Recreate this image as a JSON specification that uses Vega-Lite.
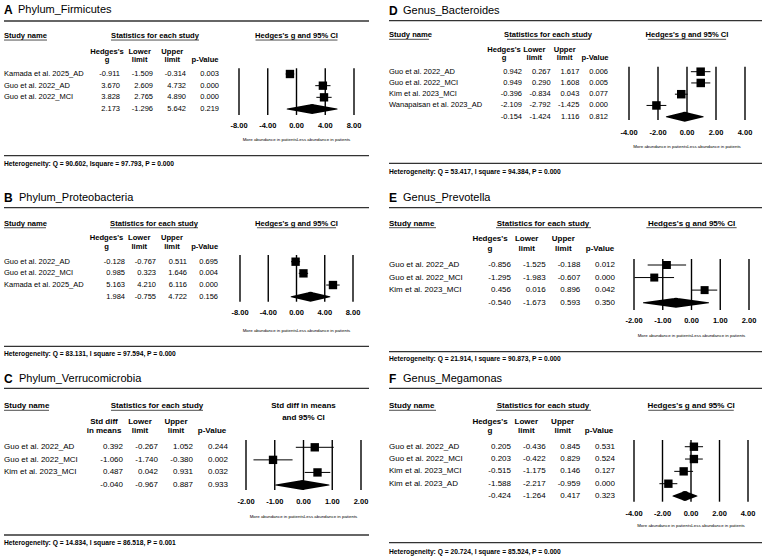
{
  "$schema": "https://vega.github.io/schema/vega-lite/v6.json",
  "padding": {"left": 3, "top": 0, "right": 0, "bottom": 0},
  "bounds": "flush",
  "columns": 2,
  "spacing": {"row": 0, "column": 20},
  "datasets": {
    "studies": [
      {"panel": "A", "order": 1, "kind": "study", "study": "Kamada et al. 2025_AD", "g": -0.911, "lo": -1.509, "hi": -0.314, "p": 0.003},
      {"panel": "A", "order": 2, "kind": "study", "study": "Guo et al. 2022_AD", "g": 3.670, "lo": 2.609, "hi": 4.732, "p": 0.000},
      {"panel": "A", "order": 3, "kind": "study", "study": "Guo et al. 2022_MCI", "g": 3.828, "lo": 2.765, "hi": 4.890, "p": 0.000},
      {"panel": "A", "order": 4, "kind": "summary", "study": "", "g": 2.173, "lo": -1.296, "hi": 5.642, "p": 0.219},
      {"panel": "B", "order": 1, "kind": "study", "study": "Guo et al. 2022_AD", "g": -0.128, "lo": -0.767, "hi": 0.511, "p": 0.695},
      {"panel": "B", "order": 2, "kind": "study", "study": "Guo et al. 2022_MCI", "g": 0.985, "lo": 0.323, "hi": 1.646, "p": 0.004},
      {"panel": "B", "order": 3, "kind": "study", "study": "Kamada et al. 2025_AD", "g": 5.163, "lo": 4.210, "hi": 6.116, "p": 0.000},
      {"panel": "B", "order": 4, "kind": "summary", "study": "", "g": 1.984, "lo": -0.755, "hi": 4.722, "p": 0.156},
      {"panel": "C", "order": 1, "kind": "study", "study": "Guo et al. 2022_AD", "g": 0.392, "lo": -0.267, "hi": 1.052, "p": 0.244},
      {"panel": "C", "order": 2, "kind": "study", "study": "Guo et al. 2022_MCI", "g": -1.060, "lo": -1.740, "hi": -0.380, "p": 0.002},
      {"panel": "C", "order": 3, "kind": "study", "study": "Kim et al. 2023_MCI", "g": 0.487, "lo": 0.042, "hi": 0.931, "p": 0.032},
      {"panel": "C", "order": 4, "kind": "summary", "study": "", "g": -0.040, "lo": -0.967, "hi": 0.887, "p": 0.933},
      {"panel": "D", "order": 1, "kind": "study", "study": "Guo et al. 2022_AD", "g": 0.942, "lo": 0.267, "hi": 1.617, "p": 0.006},
      {"panel": "D", "order": 2, "kind": "study", "study": "Guo et al. 2022_MCI", "g": 0.949, "lo": 0.290, "hi": 1.608, "p": 0.005},
      {"panel": "D", "order": 3, "kind": "study", "study": "Kim et al. 2023_MCI", "g": -0.396, "lo": -0.834, "hi": 0.043, "p": 0.077},
      {"panel": "D", "order": 4, "kind": "study", "study": "Wanapaisan et al. 2023_AD", "g": -2.109, "lo": -2.792, "hi": -1.425, "p": 0.000},
      {"panel": "D", "order": 5, "kind": "summary", "study": "", "g": -0.154, "lo": -1.424, "hi": 1.116, "p": 0.812},
      {"panel": "E", "order": 1, "kind": "study", "study": "Guo et al. 2022_AD", "g": -0.856, "lo": -1.525, "hi": -0.188, "p": 0.012},
      {"panel": "E", "order": 2, "kind": "study", "study": "Guo et al. 2022_MCI", "g": -1.295, "lo": -1.983, "hi": -0.607, "p": 0.000},
      {"panel": "E", "order": 3, "kind": "study", "study": "Kim et al. 2023_MCI", "g": 0.456, "lo": 0.016, "hi": 0.896, "p": 0.042},
      {"panel": "E", "order": 4, "kind": "summary", "study": "", "g": -0.540, "lo": -1.673, "hi": 0.593, "p": 0.350},
      {"panel": "F", "order": 1, "kind": "study", "study": "Guo et al. 2022_AD", "g": 0.205, "lo": -0.436, "hi": 0.845, "p": 0.531},
      {"panel": "F", "order": 2, "kind": "study", "study": "Guo et al. 2022_MCI", "g": 0.203, "lo": -0.422, "hi": 0.829, "p": 0.524},
      {"panel": "F", "order": 3, "kind": "study", "study": "Kim et al. 2023_MCI", "g": -0.515, "lo": -1.175, "hi": 0.146, "p": 0.127},
      {"panel": "F", "order": 4, "kind": "study", "study": "Kim et al. 2023_AD", "g": -1.588, "lo": -2.217, "hi": -0.959, "p": 0.000},
      {"panel": "F", "order": 5, "kind": "summary", "study": "", "g": -0.424, "lo": -1.264, "hi": 0.417, "p": 0.323}
    ],
    "heads": [{"col": "g", "h": "Hedges's\ng"}, {"col": "lo", "h": "Lower\nlimit"}, {"col": "hi", "h": "Upper\nlimit"}, {"col": "p", "h": "\np-Value"}],
    "headsC": [{"col": "g", "h": "Std diff\nin means"}, {"col": "lo", "h": "Lower\nlimit"}, {"col": "hi", "h": "Upper\nlimit"}, {"col": "p", "h": "\np-Value"}],
    "ticks8": [{"t": -8, "label": "-8.00"}, {"t": -4, "label": "-4.00"}, {"t": 0, "label": "0.00"}, {"t": 4, "label": "4.00"}, {"t": 8, "label": "8.00"}],
    "ticks4": [{"t": -4, "label": "-4.00"}, {"t": -2, "label": "-2.00"}, {"t": 0, "label": "0.00"}, {"t": 2, "label": "2.00"}, {"t": 4, "label": "4.00"}],
    "ticks2": [{"t": -2, "label": "-2.00"}, {"t": -1, "label": "-1.00"}, {"t": 0, "label": "0.00"}, {"t": 1, "label": "1.00"}, {"t": 2, "label": "2.00"}]
  },
  "concat": [
    {
      "width": 365, "height": 185,
      "data": {"values": [{}]},
      "resolve": {"scale": {"x": "independent"}},
      "layer": [
        {"layer": [
          {"mark": {"type": "text", "text": "A", "fontSize": 12, "fontWeight": "bold", "align": "left", "baseline": "middle"},
           "encoding": {"x": {"datum": 0, "scale": {"domain": [0, 365], "nice": false, "zero": false}}, "y": {"datum": -4.51, "scale": {"domain": [-5.341, 10.512], "reverse": true, "nice": false, "zero": false}}}},
          {"mark": {"type": "text", "text": "Phylum_Firmicutes", "fontSize": 11, "align": "left", "baseline": "middle"},
           "encoding": {"x": {"datum": 14}, "y": {"datum": -4.51}}},
          {"mark": {"type": "rule", "color": "#333", "strokeWidth": 1.3}, "encoding": {"y": {"datum": -3.54}}},
          {"mark": {"type": "text", "text": "Study name", "fontSize": 7.6, "fontWeight": "bold", "align": "left", "baseline": "middle"},
           "encoding": {"x": {"datum": 0}, "y": {"datum": -2.26}}},
          {"mark": {"type": "rule", "color": "#222", "strokeWidth": 0.8}, "encoding": {"x": {"datum": 0}, "x2": {"datum": 43}, "y": {"datum": -1.91}}},
          {"mark": {"type": "text", "text": "Statistics for each study", "fontSize": 7.6, "fontWeight": "bold", "align": "center", "baseline": "middle"},
           "encoding": {"x": {"datum": 151}, "y": {"datum": -2.26}}},
          {"mark": {"type": "rule", "color": "#222", "strokeWidth": 0.8}, "encoding": {"x": {"datum": 107}, "x2": {"datum": 195}, "y": {"datum": -1.91}}},
          {"data": {"name": "studies"}, "transform": [{"filter": "datum.panel === 'A' && datum.kind === 'study'"}],
           "mark": {"type": "text", "fontSize": 7.5, "align": "left", "baseline": "middle"},
           "encoding": {"x": {"datum": 0}, "y": {"field": "order", "type": "quantitative"}, "text": {"field": "study"}}},
          {"mark": {"type": "rule", "color": "#333", "strokeWidth": 1.3}, "encoding": {"y": {"datum": 8.0}}},
          {"mark": {"type": "text", "text": "Heterogeneity: Q = 90.602, Isquare = 97.793, P = 0.000", "fontSize": 6.7, "fontWeight": "bold", "align": "left", "baseline": "middle"},
           "encoding": {"x": {"datum": 0}, "y": {"datum": 8.74}}}
        ]},
        {"data": {"name": "heads"},
         "mark": {"type": "text", "fontSize": 7.6, "fontWeight": "bold", "align": "center", "baseline": "middle", "lineBreak": "\n", "lineHeight": 8.3},
         "encoding": {"x": {"field": "col", "type": "nominal", "scale": {"type": "point", "domain": ["g", "lo", "hi", "p"], "range": [103, 201], "padding": 0}}, "y": {"datum": -0.911}, "text": {"field": "h"}}},
        {"data": {"name": "studies"}, "transform": [{"filter": "datum.panel === 'A'"}, {"fold": ["g", "lo", "hi", "p"], "as": ["col", "val"]}],
         "mark": {"type": "text", "fontSize": 7.5, "align": "right", "baseline": "middle"},
         "encoding": {"x": {"field": "col", "type": "nominal", "scale": {"type": "point", "domain": ["g", "lo", "hi", "p"], "range": [116, 215], "padding": 0}}, "y": {"field": "order", "type": "quantitative"}, "text": {"field": "val", "type": "quantitative", "format": ".3f"}}},
        {"layer": [
          {"mark": {"type": "text", "text": "Hedges's g and 95% CI", "fontSize": 7.6, "fontWeight": "bold", "align": "center", "baseline": "middle"},
           "encoding": {"x": {"datum": 0, "scale": {"domain": [-8, 8], "range": [235, 350], "nice": false, "zero": false}}, "y": {"datum": -2.26}}},
          {"mark": {"type": "rule", "color": "#222", "strokeWidth": 0.8}, "encoding": {"x": {"datum": -5.7}, "x2": {"datum": 5.7}, "y": {"datum": -1.91}}},
          {"data": {"name": "ticks8"}, "mark": {"type": "rule", "color": "black", "strokeWidth": 1.4},
           "encoding": {"x": {"field": "t", "type": "quantitative"}, "y": {"datum": 0.51}, "y2": {"datum": 4.51}}},
          {"data": {"name": "studies"}, "transform": [{"filter": "datum.panel === 'A' && datum.kind === 'study'"}],
           "mark": {"type": "rule", "color": "black", "strokeWidth": 1},
           "encoding": {"x": {"field": "lo", "type": "quantitative"}, "x2": {"field": "hi"}, "y": {"field": "order", "type": "quantitative"}}},
          {"data": {"name": "studies"}, "transform": [{"filter": "datum.panel === 'A' && datum.kind === 'study'"}],
           "mark": {"type": "point", "shape": "square", "filled": true, "color": "black", "opacity": 1, "size": 70},
           "encoding": {"x": {"field": "g", "type": "quantitative"}, "y": {"field": "order", "type": "quantitative"}}},
          {"data": {"name": "studies"}, "transform": [{"filter": "datum.panel === 'A' && datum.kind === 'summary'"}, {"fold": ["lo", "g", "hi"], "as": ["col", "val"]}],
           "mark": {"type": "trail", "color": "black"},
           "encoding": {"x": {"field": "val", "type": "quantitative"}, "y": {"field": "order", "type": "quantitative"}, "size": {"condition": {"test": "datum.col === 'g'", "value": 10}, "value": 0}}},
          {"data": {"name": "ticks8"}, "mark": {"type": "text", "fontSize": 7.5, "fontWeight": "bold", "align": "center", "baseline": "middle"},
           "encoding": {"x": {"field": "t", "type": "quantitative"}, "y": {"datum": 5.43}, "text": {"field": "label"}}},
          {"mark": {"type": "text", "text": "More abundance in patientsLess abundance in patients", "fontSize": 4.4, "align": "center", "baseline": "middle"},
           "encoding": {"x": {"datum": 0}, "y": {"datum": 6.66}}}
        ]}
      ]
    },
    {
      "width": 373, "height": 185,
      "data": {"values": [{}]},
      "resolve": {"scale": {"x": "independent"}},
      "layer": [
        {"layer": [
          {"mark": {"type": "text", "text": "D", "fontSize": 12, "fontWeight": "bold", "align": "left", "baseline": "middle"},
           "encoding": {"x": {"datum": 0, "scale": {"domain": [0, 373], "nice": false, "zero": false}}, "y": {"datum": -4.395, "scale": {"domain": [-5.373, 11.071], "reverse": true, "nice": false, "zero": false}}}},
          {"mark": {"type": "text", "text": "Genus_Bacteroides", "fontSize": 11, "align": "left", "baseline": "middle"},
           "encoding": {"x": {"datum": 14}, "y": {"datum": -4.395}}},
          {"mark": {"type": "rule", "color": "#333", "strokeWidth": 1.3}, "encoding": {"y": {"datum": -3.533}}},
          {"mark": {"type": "text", "text": "Study name", "fontSize": 7.6, "fontWeight": "bold", "align": "left", "baseline": "middle"},
           "encoding": {"x": {"datum": 0}, "y": {"datum": -2.262}}},
          {"mark": {"type": "rule", "color": "#222", "strokeWidth": 0.8}, "encoding": {"x": {"datum": 0}, "x2": {"datum": 40}, "y": {"datum": -1.88}}},
          {"mark": {"type": "text", "text": "Statistics for each study", "fontSize": 7.6, "fontWeight": "bold", "align": "center", "baseline": "middle"},
           "encoding": {"x": {"datum": 159}, "y": {"datum": -2.262}}},
          {"mark": {"type": "rule", "color": "#222", "strokeWidth": 0.8}, "encoding": {"x": {"datum": 118}, "x2": {"datum": 201}, "y": {"datum": -1.88}}},
          {"data": {"name": "studies"}, "transform": [{"filter": "datum.panel === 'D' && datum.kind === 'study'"}],
           "mark": {"type": "text", "fontSize": 7.5, "align": "left", "baseline": "middle"},
           "encoding": {"x": {"datum": 0}, "y": {"field": "order", "type": "quantitative"}, "text": {"field": "study"}}},
          {"mark": {"type": "rule", "color": "#333", "strokeWidth": 1.3}, "encoding": {"y": {"datum": 9.143}}},
          {"mark": {"type": "text", "text": "Heterogeneity: Q = 53.417, I square = 94.384, P = 0.000", "fontSize": 6.7, "fontWeight": "bold", "align": "left", "baseline": "middle"},
           "encoding": {"x": {"datum": 0}, "y": {"datum": 9.889}}}
        ]},
        {"data": {"name": "heads"},
         "mark": {"type": "text", "fontSize": 7.6, "fontWeight": "bold", "align": "center", "baseline": "middle", "lineBreak": "\n", "lineHeight": 8.3},
         "encoding": {"x": {"field": "col", "type": "nominal", "scale": {"type": "point", "domain": ["g", "lo", "hi", "p"], "range": [115, 206], "padding": 0}}, "y": {"datum": -0.929}, "text": {"field": "h"}}},
        {"data": {"name": "studies"}, "transform": [{"filter": "datum.panel === 'D'"}, {"fold": ["g", "lo", "hi", "p"], "as": ["col", "val"]}],
         "mark": {"type": "text", "fontSize": 7.5, "align": "right", "baseline": "middle"},
         "encoding": {"x": {"field": "col", "type": "nominal", "scale": {"type": "point", "domain": ["g", "lo", "hi", "p"], "range": [133, 219], "padding": 0}}, "y": {"field": "order", "type": "quantitative"}, "text": {"field": "val", "type": "quantitative", "format": ".3f"}}},
        {"layer": [
          {"mark": {"type": "text", "text": "Hedges's g and 95% CI", "fontSize": 7.6, "fontWeight": "bold", "align": "center", "baseline": "middle"},
           "encoding": {"x": {"datum": 0, "scale": {"domain": [-4, 4], "range": [240, 356], "nice": false, "zero": false}}, "y": {"datum": -2.262}}},
          {"mark": {"type": "rule", "color": "#222", "strokeWidth": 0.8}, "encoding": {"x": {"datum": -2.7}, "x2": {"datum": 2.7}, "y": {"datum": -1.88}}},
          {"data": {"name": "ticks4"}, "mark": {"type": "rule", "color": "black", "strokeWidth": 1.4},
           "encoding": {"x": {"field": "t", "type": "quantitative"}, "y": {"datum": 0.556}, "y2": {"datum": 5.294}}},
          {"data": {"name": "studies"}, "transform": [{"filter": "datum.panel === 'D' && datum.kind === 'study'"}],
           "mark": {"type": "rule", "color": "black", "strokeWidth": 1},
           "encoding": {"x": {"field": "lo", "type": "quantitative"}, "x2": {"field": "hi"}, "y": {"field": "order", "type": "quantitative"}}},
          {"data": {"name": "studies"}, "transform": [{"filter": "datum.panel === 'D' && datum.kind === 'study'"}],
           "mark": {"type": "point", "shape": "square", "filled": true, "color": "black", "opacity": 1, "size": 72},
           "encoding": {"x": {"field": "g", "type": "quantitative"}, "y": {"field": "order", "type": "quantitative"}}},
          {"data": {"name": "studies"}, "transform": [{"filter": "datum.panel === 'D' && datum.kind === 'summary'"}, {"fold": ["lo", "g", "hi"], "as": ["col", "val"]}],
           "mark": {"type": "trail", "color": "black"},
           "encoding": {"x": {"field": "val", "type": "quantitative"}, "y": {"field": "order", "type": "quantitative"}, "size": {"condition": {"test": "datum.col === 'g'", "value": 10}, "value": 0}}},
          {"data": {"name": "ticks4"}, "mark": {"type": "text", "fontSize": 7.5, "fontWeight": "bold", "align": "center", "baseline": "middle"},
           "encoding": {"x": {"field": "t", "type": "quantitative"}, "y": {"datum": 6.423}, "text": {"field": "label"}}},
          {"mark": {"type": "text", "text": "More abundance in patientsLess abundance in patients", "fontSize": 4.4, "align": "center", "baseline": "middle"},
           "encoding": {"x": {"datum": 0}, "y": {"datum": 7.667}}}
        ]}
      ]
    },
    {
      "width": 365, "height": 185,
      "data": {"values": [{}]},
      "resolve": {"scale": {"x": "independent"}},
      "layer": [
        {"layer": [
          {"mark": {"type": "text", "text": "B", "fontSize": 12, "fontWeight": "bold", "align": "left", "baseline": "middle"},
           "encoding": {"x": {"datum": 0, "scale": {"domain": [0, 365], "nice": false, "zero": false}}, "y": {"datum": -4.48, "scale": {"domain": [-5.572, 10.281], "reverse": true, "nice": false, "zero": false}}}},
          {"mark": {"type": "text", "text": "Phylum_Proteobacteria", "fontSize": 11, "align": "left", "baseline": "middle"},
           "encoding": {"x": {"datum": 15}, "y": {"datum": -4.48}}},
          {"mark": {"type": "rule", "color": "#333", "strokeWidth": 1.3}, "encoding": {"y": {"datum": -3.63}}},
          {"mark": {"type": "text", "text": "Study name", "fontSize": 7.6, "fontWeight": "bold", "align": "left", "baseline": "middle"},
           "encoding": {"x": {"datum": 0}, "y": {"datum": -2.23}}},
          {"mark": {"type": "rule", "color": "#222", "strokeWidth": 0.8}, "encoding": {"x": {"datum": 0}, "x2": {"datum": 42}, "y": {"datum": -1.91}}},
          {"mark": {"type": "text", "text": "Statistics for each study", "fontSize": 7.6, "fontWeight": "bold", "align": "center", "baseline": "middle"},
           "encoding": {"x": {"datum": 150}, "y": {"datum": -2.23}}},
          {"mark": {"type": "rule", "color": "#222", "strokeWidth": 0.8}, "encoding": {"x": {"datum": 106}, "x2": {"datum": 194}, "y": {"datum": -1.91}}},
          {"data": {"name": "studies"}, "transform": [{"filter": "datum.panel === 'B' && datum.kind === 'study'"}],
           "mark": {"type": "text", "fontSize": 7.5, "align": "left", "baseline": "middle"},
           "encoding": {"x": {"datum": 0}, "y": {"field": "order", "type": "quantitative"}, "text": {"field": "study"}}},
          {"mark": {"type": "rule", "color": "#333", "strokeWidth": 1.3}, "encoding": {"y": {"datum": 8.25}}},
          {"mark": {"type": "text", "text": "Heterogeneity: Q = 83.131, I square = 97.594, P = 0.000", "fontSize": 6.7, "fontWeight": "bold", "align": "left", "baseline": "middle"},
           "encoding": {"x": {"datum": 0}, "y": {"datum": 8.93}}}
        ]},
        {"data": {"name": "heads"},
         "mark": {"type": "text", "fontSize": 7.6, "fontWeight": "bold", "align": "center", "baseline": "middle", "lineBreak": "\n", "lineHeight": 8.4},
         "encoding": {"x": {"field": "col", "type": "nominal", "scale": {"type": "point", "domain": ["g", "lo", "hi", "p"], "range": [102.5, 200.7], "padding": 0}}, "y": {"datum": -1.005}, "text": {"field": "h"}}},
        {"data": {"name": "studies"}, "transform": [{"filter": "datum.panel === 'B'"}, {"fold": ["g", "lo", "hi", "p"], "as": ["col", "val"]}],
         "mark": {"type": "text", "fontSize": 7.5, "align": "right", "baseline": "middle"},
         "encoding": {"x": {"field": "col", "type": "nominal", "scale": {"type": "point", "domain": ["g", "lo", "hi", "p"], "range": [121, 214], "padding": 0}}, "y": {"field": "order", "type": "quantitative"}, "text": {"field": "val", "type": "quantitative", "format": ".3f"}}},
        {"layer": [
          {"mark": {"type": "text", "text": "Hedges's g and 95% CI", "fontSize": 7.6, "fontWeight": "bold", "align": "center", "baseline": "middle"},
           "encoding": {"x": {"datum": 0, "scale": {"domain": [-8, 8], "range": [236, 349], "nice": false, "zero": false}}, "y": {"datum": -2.23}}},
          {"mark": {"type": "rule", "color": "#222", "strokeWidth": 0.8}, "encoding": {"x": {"datum": -5.6}, "x2": {"datum": 5.6}, "y": {"datum": -1.91}}},
          {"data": {"name": "ticks8"}, "mark": {"type": "rule", "color": "black", "strokeWidth": 1.4},
           "encoding": {"x": {"field": "t", "type": "quantitative"}, "y": {"datum": 0.426}, "y2": {"datum": 4.43}}},
          {"data": {"name": "studies"}, "transform": [{"filter": "datum.panel === 'B' && datum.kind === 'study'"}],
           "mark": {"type": "rule", "color": "black", "strokeWidth": 1},
           "encoding": {"x": {"field": "lo", "type": "quantitative"}, "x2": {"field": "hi"}, "y": {"field": "order", "type": "quantitative"}}},
          {"data": {"name": "studies"}, "transform": [{"filter": "datum.panel === 'B' && datum.kind === 'study'"}],
           "mark": {"type": "point", "shape": "square", "filled": true, "color": "black", "opacity": 1, "size": 70},
           "encoding": {"x": {"field": "g", "type": "quantitative"}, "y": {"field": "order", "type": "quantitative"}}},
          {"data": {"name": "studies"}, "transform": [{"filter": "datum.panel === 'B' && datum.kind === 'summary'"}, {"fold": ["lo", "g", "hi"], "as": ["col", "val"]}],
           "mark": {"type": "trail", "color": "black"},
           "encoding": {"x": {"field": "val", "type": "quantitative"}, "y": {"field": "order", "type": "quantitative"}, "size": {"condition": {"test": "datum.col === 'g'", "value": 10}, "value": 0}}},
          {"data": {"name": "ticks8"}, "mark": {"type": "text", "fontSize": 7.5, "fontWeight": "bold", "align": "center", "baseline": "middle"},
           "encoding": {"x": {"field": "t", "type": "quantitative"}, "y": {"datum": 5.42}, "text": {"field": "label"}}},
          {"mark": {"type": "text", "text": "More abundance in patientsLess abundance in patients", "fontSize": 4.4, "align": "center", "baseline": "middle"},
           "encoding": {"x": {"datum": 0}, "y": {"datum": 6.91}}}
        ]}
      ]
    },
    {
      "width": 373, "height": 185,
      "data": {"values": [{}]},
      "resolve": {"scale": {"x": "independent"}},
      "layer": [
        {"layer": [
          {"mark": {"type": "text", "text": "E", "fontSize": 12, "fontWeight": "bold", "align": "left", "baseline": "middle"},
           "encoding": {"x": {"datum": 0, "scale": {"domain": [0, 373], "nice": false, "zero": false}}, "y": {"datum": -4.363, "scale": {"domain": [-5.375, 9.366], "reverse": true, "nice": false, "zero": false}}}},
          {"mark": {"type": "text", "text": "Genus_Prevotella", "fontSize": 11, "align": "left", "baseline": "middle"},
           "encoding": {"x": {"datum": 14}, "y": {"datum": -4.363}}},
          {"mark": {"type": "rule", "color": "#333", "strokeWidth": 1.3}, "encoding": {"y": {"datum": -3.566}}},
          {"mark": {"type": "text", "text": "Study name", "fontSize": 8, "fontWeight": "bold", "align": "left", "baseline": "middle"},
           "encoding": {"x": {"datum": 0}, "y": {"datum": -2.267}}},
          {"mark": {"type": "rule", "color": "#222", "strokeWidth": 0.8}, "encoding": {"x": {"datum": 0}, "x2": {"datum": 47}, "y": {"datum": -1.973}}},
          {"mark": {"type": "text", "text": "Statistics for each study", "fontSize": 8, "fontWeight": "bold", "align": "center", "baseline": "middle"},
           "encoding": {"x": {"datum": 154}, "y": {"datum": -2.267}}},
          {"mark": {"type": "rule", "color": "#222", "strokeWidth": 0.8}, "encoding": {"x": {"datum": 107}, "x2": {"datum": 202}, "y": {"datum": -1.973}}},
          {"data": {"name": "studies"}, "transform": [{"filter": "datum.panel === 'E' && datum.kind === 'study'"}],
           "mark": {"type": "text", "fontSize": 8, "align": "left", "baseline": "middle"},
           "encoding": {"x": {"datum": 0}, "y": {"field": "order", "type": "quantitative"}, "text": {"field": "study"}}},
          {"mark": {"type": "rule", "color": "#333", "strokeWidth": 1.3}, "encoding": {"y": {"datum": 7.908}}},
          {"mark": {"type": "text", "text": "Heterogeneity: Q = 21.914, I square = 90.873, P = 0.000", "fontSize": 6.7, "fontWeight": "bold", "align": "left", "baseline": "middle"},
           "encoding": {"x": {"datum": 0}, "y": {"datum": 8.49}}}
        ]},
        {"data": {"name": "heads"},
         "mark": {"type": "text", "fontSize": 8, "fontWeight": "bold", "align": "center", "baseline": "middle", "lineBreak": "\n", "lineHeight": 9.7},
         "encoding": {"x": {"field": "col", "type": "nominal", "scale": {"type": "point", "domain": ["g", "lo", "hi", "p"], "range": [101, 211], "padding": 0}}, "y": {"datum": -1.048}, "text": {"field": "h"}}},
        {"data": {"name": "studies"}, "transform": [{"filter": "datum.panel === 'E'"}, {"fold": ["g", "lo", "hi", "p"], "as": ["col", "val"]}],
         "mark": {"type": "text", "fontSize": 8, "align": "right", "baseline": "middle"},
         "encoding": {"x": {"field": "col", "type": "nominal", "scale": {"type": "point", "domain": ["g", "lo", "hi", "p"], "range": [122, 226], "padding": 0}}, "y": {"field": "order", "type": "quantitative"}, "text": {"field": "val", "type": "quantitative", "format": ".3f"}}},
        {"layer": [
          {"mark": {"type": "text", "text": "Hedges's g and 95% CI", "fontSize": 8, "fontWeight": "bold", "align": "center", "baseline": "middle"},
           "encoding": {"x": {"datum": 0, "scale": {"domain": [-2, 2], "range": [245, 360], "nice": false, "zero": false}}, "y": {"datum": -2.267}}},
          {"mark": {"type": "rule", "color": "#222", "strokeWidth": 0.8}, "encoding": {"x": {"datum": -1.57}, "x2": {"datum": 1.57}, "y": {"datum": -1.973}}},
          {"data": {"name": "ticks2"}, "mark": {"type": "rule", "color": "black", "strokeWidth": 1.4},
           "encoding": {"x": {"field": "t", "type": "quantitative"}, "y": {"datum": 0.521}, "y2": {"datum": 4.585}}},
          {"data": {"name": "studies"}, "transform": [{"filter": "datum.panel === 'E' && datum.kind === 'study'"}],
           "mark": {"type": "rule", "color": "black", "strokeWidth": 1},
           "encoding": {"x": {"field": "lo", "type": "quantitative"}, "x2": {"field": "hi"}, "y": {"field": "order", "type": "quantitative"}}},
          {"data": {"name": "studies"}, "transform": [{"filter": "datum.panel === 'E' && datum.kind === 'study'"}],
           "mark": {"type": "point", "shape": "square", "filled": true, "color": "black", "opacity": 1, "size": 64},
           "encoding": {"x": {"field": "g", "type": "quantitative"}, "y": {"field": "order", "type": "quantitative"}}},
          {"data": {"name": "studies"}, "transform": [{"filter": "datum.panel === 'E' && datum.kind === 'summary'"}, {"fold": ["lo", "g", "hi"], "as": ["col", "val"]}],
           "mark": {"type": "trail", "color": "black"},
           "encoding": {"x": {"field": "val", "type": "quantitative"}, "y": {"field": "order", "type": "quantitative"}, "size": {"condition": {"test": "datum.col === 'g'", "value": 10}, "value": 0}}},
          {"data": {"name": "ticks2"}, "mark": {"type": "text", "fontSize": 7.5, "fontWeight": "bold", "align": "center", "baseline": "middle"},
           "encoding": {"x": {"field": "t", "type": "quantitative"}, "y": {"datum": 5.462}, "text": {"field": "label"}}},
          {"mark": {"type": "text", "text": "More abundance in patientsLess abundance in patients", "fontSize": 4.4, "align": "center", "baseline": "middle"},
           "encoding": {"x": {"datum": 0}, "y": {"datum": 6.633}}}
        ]}
      ]
    },
    {
      "width": 365, "height": 187,
      "data": {"values": [{}]},
      "resolve": {"scale": {"x": "independent"}},
      "layer": [
        {"layer": [
          {"mark": {"type": "text", "text": "C", "fontSize": 12, "fontWeight": "bold", "align": "left", "baseline": "middle"},
           "encoding": {"x": {"datum": 0, "scale": {"domain": [0, 365], "nice": false, "zero": false}}, "y": {"datum": -4.415, "scale": {"domain": [-5.155, 9.734], "reverse": true, "nice": false, "zero": false}}}},
          {"mark": {"type": "text", "text": "Phylum_Verrucomicrobia", "fontSize": 11, "align": "left", "baseline": "middle"},
           "encoding": {"x": {"datum": 15}, "y": {"datum": -4.415}}},
          {"mark": {"type": "rule", "color": "#333", "strokeWidth": 1.3}, "encoding": {"y": {"datum": -3.698}}},
          {"mark": {"type": "text", "text": "Study name", "fontSize": 8, "fontWeight": "bold", "align": "left", "baseline": "middle"},
           "encoding": {"x": {"datum": 0}, "y": {"datum": -2.313}}},
          {"mark": {"type": "rule", "color": "#222", "strokeWidth": 0.8}, "encoding": {"x": {"datum": 0}, "x2": {"datum": 45}, "y": {"datum": -1.946}}},
          {"mark": {"type": "text", "text": "Statistics for each study", "fontSize": 8, "fontWeight": "bold", "align": "center", "baseline": "middle"},
           "encoding": {"x": {"datum": 153}, "y": {"datum": -2.313}}},
          {"mark": {"type": "rule", "color": "#222", "strokeWidth": 0.8}, "encoding": {"x": {"datum": 107}, "x2": {"datum": 199}, "y": {"datum": -1.946}}},
          {"data": {"name": "studies"}, "transform": [{"filter": "datum.panel === 'C' && datum.kind === 'study'"}],
           "mark": {"type": "text", "fontSize": 8, "align": "left", "baseline": "middle"},
           "encoding": {"x": {"datum": 0}, "y": {"field": "order", "type": "quantitative"}, "text": {"field": "study"}}},
          {"mark": {"type": "rule", "color": "#333", "strokeWidth": 1.3}, "encoding": {"y": {"datum": 7.982}}},
          {"mark": {"type": "text", "text": "Heterogeneity: Q = 14.834, I square = 86.518, P = 0.001", "fontSize": 6.7, "fontWeight": "bold", "align": "left", "baseline": "middle"},
           "encoding": {"x": {"datum": 0}, "y": {"datum": 8.595}}}
        ]},
        {"data": {"name": "headsC"},
         "mark": {"type": "text", "fontSize": 8, "fontWeight": "bold", "align": "center", "baseline": "middle", "lineBreak": "\n", "lineHeight": 8.7},
         "encoding": {"x": {"field": "col", "type": "nominal", "scale": {"type": "point", "domain": ["g", "lo", "hi", "p"], "range": [100, 208], "padding": 0}}, "y": {"datum": -0.991}, "text": {"field": "h"}}},
        {"data": {"name": "studies"}, "transform": [{"filter": "datum.panel === 'C'"}, {"fold": ["g", "lo", "hi", "p"], "as": ["col", "val"]}],
         "mark": {"type": "text", "fontSize": 8, "align": "right", "baseline": "middle"},
         "encoding": {"x": {"field": "col", "type": "nominal", "scale": {"type": "point", "domain": ["g", "lo", "hi", "p"], "range": [119, 224], "padding": 0}}, "y": {"field": "order", "type": "quantitative"}, "text": {"field": "val", "type": "quantitative", "format": ".3f"}}},
        {"layer": [
          {"mark": {"type": "text", "text": "Std diff in means\nand 95% CI", "lineBreak": "\n", "lineHeight": 12, "fontSize": 8, "fontWeight": "bold", "align": "center", "baseline": "middle"},
           "encoding": {"x": {"datum": 0, "scale": {"domain": [-2, 2], "range": [242, 357], "nice": false, "zero": false}}, "y": {"datum": -2.313}}},
          {"data": {"name": "ticks2"}, "mark": {"type": "rule", "color": "black", "strokeWidth": 1.4},
           "encoding": {"x": {"field": "t", "type": "quantitative"}, "y": {"datum": 0.418}, "y2": {"datum": 4.399}}},
          {"data": {"name": "studies"}, "transform": [{"filter": "datum.panel === 'C' && datum.kind === 'study'"}],
           "mark": {"type": "rule", "color": "black", "strokeWidth": 1},
           "encoding": {"x": {"field": "lo", "type": "quantitative"}, "x2": {"field": "hi"}, "y": {"field": "order", "type": "quantitative"}}},
          {"data": {"name": "studies"}, "transform": [{"filter": "datum.panel === 'C' && datum.kind === 'study'"}],
           "mark": {"type": "point", "shape": "square", "filled": true, "color": "black", "opacity": 1, "size": 70},
           "encoding": {"x": {"field": "g", "type": "quantitative"}, "y": {"field": "order", "type": "quantitative"}}},
          {"data": {"name": "studies"}, "transform": [{"filter": "datum.panel === 'C' && datum.kind === 'summary'"}, {"fold": ["lo", "g", "hi"], "as": ["col", "val"]}],
           "mark": {"type": "trail", "color": "black"},
           "encoding": {"x": {"field": "val", "type": "quantitative"}, "y": {"field": "order", "type": "quantitative"}, "size": {"condition": {"test": "datum.col === 'g'", "value": 10}, "value": 0}}},
          {"data": {"name": "ticks2"}, "mark": {"type": "text", "fontSize": 7.5, "fontWeight": "bold", "align": "center", "baseline": "middle"},
           "encoding": {"x": {"field": "t", "type": "quantitative"}, "y": {"datum": 5.378}, "text": {"field": "label"}}},
          {"mark": {"type": "text", "text": "More abundance in patientsLess abundance in patients", "fontSize": 4.4, "align": "center", "baseline": "middle"},
           "encoding": {"x": {"datum": 0}, "y": {"datum": 6.525}}}
        ]}
      ]
    },
    {
      "width": 373, "height": 187,
      "data": {"values": [{}]},
      "resolve": {"scale": {"x": "independent"}},
      "layer": [
        {"layer": [
          {"mark": {"type": "text", "text": "F", "fontSize": 12, "fontWeight": "bold", "align": "left", "baseline": "middle"},
           "encoding": {"x": {"datum": 0, "scale": {"domain": [0, 373], "nice": false, "zero": false}}, "y": {"datum": -4.467, "scale": {"domain": [-5.221, 9.945], "reverse": true, "nice": false, "zero": false}}}},
          {"mark": {"type": "text", "text": "Genus_Megamonas", "fontSize": 11, "align": "left", "baseline": "middle"},
           "encoding": {"x": {"datum": 14}, "y": {"datum": -4.467}}},
          {"mark": {"type": "rule", "color": "#333", "strokeWidth": 1.3}, "encoding": {"y": {"datum": -3.737}}},
          {"mark": {"type": "text", "text": "Study name", "fontSize": 8, "fontWeight": "bold", "align": "left", "baseline": "middle"},
           "encoding": {"x": {"datum": 0}, "y": {"datum": -2.326}}},
          {"mark": {"type": "rule", "color": "#222", "strokeWidth": 0.8}, "encoding": {"x": {"datum": 0}, "x2": {"datum": 47}, "y": {"datum": -1.953}}},
          {"mark": {"type": "text", "text": "Statistics for each study", "fontSize": 8, "fontWeight": "bold", "align": "center", "baseline": "middle"},
           "encoding": {"x": {"datum": 154}, "y": {"datum": -2.326}}},
          {"mark": {"type": "rule", "color": "#222", "strokeWidth": 0.8}, "encoding": {"x": {"datum": 107}, "x2": {"datum": 202}, "y": {"datum": -1.953}}},
          {"data": {"name": "studies"}, "transform": [{"filter": "datum.panel === 'F' && datum.kind === 'study'"}],
           "mark": {"type": "text", "fontSize": 8, "align": "left", "baseline": "middle"},
           "encoding": {"x": {"datum": 0}, "y": {"field": "order", "type": "quantitative"}, "text": {"field": "study"}}},
          {"mark": {"type": "rule", "color": "#333", "strokeWidth": 1.3}, "encoding": {"y": {"datum": 8.785}}},
          {"mark": {"type": "text", "text": "Heterogeneity: Q = 20.724, I square = 85.524, P = 0.000", "fontSize": 6.7, "fontWeight": "bold", "align": "left", "baseline": "middle"},
           "encoding": {"x": {"datum": 0}, "y": {"datum": 9.515}}}
        ]},
        {"data": {"name": "heads"},
         "mark": {"type": "text", "fontSize": 8, "fontWeight": "bold", "align": "center", "baseline": "middle", "lineBreak": "\n", "lineHeight": 8.7},
         "encoding": {"x": {"field": "col", "type": "nominal", "scale": {"type": "point", "domain": ["g", "lo", "hi", "p"], "range": [101, 210], "padding": 0}}, "y": {"datum": -0.979}, "text": {"field": "h"}}},
        {"data": {"name": "studies"}, "transform": [{"filter": "datum.panel === 'F'"}, {"fold": ["g", "lo", "hi", "p"], "as": ["col", "val"]}],
         "mark": {"type": "text", "fontSize": 8, "align": "right", "baseline": "middle"},
         "encoding": {"x": {"field": "col", "type": "nominal", "scale": {"type": "point", "domain": ["g", "lo", "hi", "p"], "range": [122, 226], "padding": 0}}, "y": {"field": "order", "type": "quantitative"}, "text": {"field": "val", "type": "quantitative", "format": ".3f"}}},
        {"layer": [
          {"mark": {"type": "text", "text": "Hedges's g and 95% CI", "fontSize": 8, "fontWeight": "bold", "align": "center", "baseline": "middle"},
           "encoding": {"x": {"datum": 0, "scale": {"domain": [-4, 4], "range": [245, 359], "nice": false, "zero": false}}, "y": {"datum": -2.326}}},
          {"mark": {"type": "rule", "color": "#222", "strokeWidth": 0.8}, "encoding": {"x": {"datum": -3.0}, "x2": {"datum": 3.0}, "y": {"datum": -1.953}}},
          {"data": {"name": "ticks4"}, "mark": {"type": "rule", "color": "black", "strokeWidth": 1.4},
           "encoding": {"x": {"field": "t", "type": "quantitative"}, "y": {"datum": 0.456}, "y2": {"datum": 5.46}}},
          {"data": {"name": "studies"}, "transform": [{"filter": "datum.panel === 'F' && datum.kind === 'study'"}],
           "mark": {"type": "rule", "color": "black", "strokeWidth": 1},
           "encoding": {"x": {"field": "lo", "type": "quantitative"}, "x2": {"field": "hi"}, "y": {"field": "order", "type": "quantitative"}}},
          {"data": {"name": "studies"}, "transform": [{"filter": "datum.panel === 'F' && datum.kind === 'study'"}],
           "mark": {"type": "point", "shape": "square", "filled": true, "color": "black", "opacity": 1, "size": 70},
           "encoding": {"x": {"field": "g", "type": "quantitative"}, "y": {"field": "order", "type": "quantitative"}}},
          {"data": {"name": "studies"}, "transform": [{"filter": "datum.panel === 'F' && datum.kind === 'summary'"}, {"fold": ["lo", "g", "hi"], "as": ["col", "val"]}],
           "mark": {"type": "trail", "color": "black"},
           "encoding": {"x": {"field": "val", "type": "quantitative"}, "y": {"field": "order", "type": "quantitative"}, "size": {"condition": {"test": "datum.col === 'g'", "value": 10}, "value": 0}}},
          {"data": {"name": "ticks4"}, "mark": {"type": "text", "fontSize": 7.5, "fontWeight": "bold", "align": "center", "baseline": "middle"},
           "encoding": {"x": {"field": "t", "type": "quantitative"}, "y": {"datum": 6.458}, "text": {"field": "label"}}},
          {"mark": {"type": "text", "text": "More abundance in patientsLess abundance in patients", "fontSize": 4.4, "align": "center", "baseline": "middle"},
           "encoding": {"x": {"datum": 0}, "y": {"datum": 7.407}}}
        ]}
      ]
    }
  ],
  "config": {
    "font": "Liberation Sans",
    "locale": {"number": {"decimal": ".", "thousands": ",", "grouping": [3], "currency": ["$", ""], "minus": "-"}},
    "view": {"stroke": null},
    "axis": {"disable": true},
    "legend": {"disable": true},
    "text": {"font": "Liberation Sans", "color": "black"}
  }
}
